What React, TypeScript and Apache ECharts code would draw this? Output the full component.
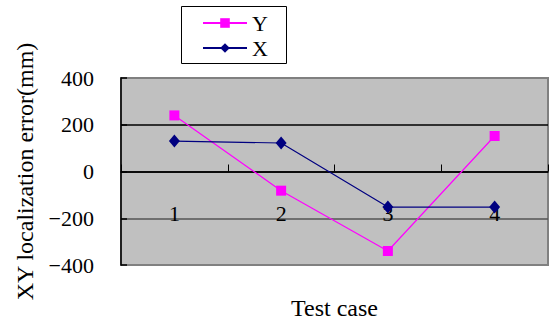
import React, { useEffect, useRef } from "react";
import * as echarts from "echarts";

const categories = ["1", "2", "3", "4"];
const seriesY = [240, -82, -340, 152];
const seriesX = [130, 122, -152, -152];
const yTicks = { min: -400, max: 400, interval: 200 };

const FONT = "'Liberation Serif', 'Times New Roman', serif";

export default function App() {
  const ref = useRef<HTMLDivElement>(null);

  useEffect(() => {
    if (!ref.current) return;
    const chart = echarts.init(ref.current, undefined, { renderer: "svg" });
    chart.setOption({
      animation: false,
      backgroundColor: "#ffffff",
      textStyle: { fontFamily: FONT },
      // legend frame
      graphic: [
        {
          type: "rect",
          left: 181,
          top: 6,
          shape: { x: 0, y: 0, width: 105, height: 57 },
          style: { fill: "#ffffff", stroke: "#000000", lineWidth: 1 },
          z: -1,
        },
      ],
      grid: {
        left: 121,
        right: 2,
        top: 78,
        bottom: 56,
        outerBoundsMode: "none",
        containLabel: false,
        show: true,
        backgroundColor: "#c0c0c0",
        borderColor: "#808080",
        borderWidth: 2,
      },
      legend: {
        left: 202,
        top: 12,
        orient: "vertical",
        itemGap: 3,
        itemWidth: 44,
        itemHeight: 12,
        padding: 0,
        textStyle: { fontFamily: FONT, fontSize: 22, color: "#000" },
        data: ["Y", "X"],
        z: 5,
      },
      xAxis: {
        type: "category",
        data: categories,
        boundaryGap: true,
        name: "Test case",
        nameLocation: "middle",
        nameGap: 31,
        nameTextStyle: { fontFamily: FONT, fontSize: 24, color: "#000" },
        axisLine: { onZero: true, lineStyle: { color: "#000", width: 1.5 } },
        axisTick: { show: true, inside: true, length: 7, lineStyle: { color: "#000" } },
        axisLabel: {
          margin: -63,
          fontFamily: FONT,
          fontSize: 22,
          color: "#000",
        },
      },
      yAxis: {
        type: "value",
        min: yTicks.min,
        max: yTicks.max,
        interval: yTicks.interval,
        name: "XY localization error(mm)",
        nameLocation: "middle",
        nameGap: 84,
        nameTextStyle: { fontFamily: FONT, fontSize: 24, color: "#000" },
        axisLine: { show: true, lineStyle: { color: "#000", width: 1.5 } },
        axisTick: { show: true, inside: true, length: 6, lineStyle: { color: "#000", width: 1.5 } },
        axisLabel: {
          margin: 27,
          fontFamily: FONT,
          fontSize: 22,
          color: "#000",
          formatter: (v: number) => (v < 0 ? "\u2212" + Math.abs(v) : String(v)),
        },
        splitLine: {
          show: true,
          lineStyle: {
            color: ["#808080", "#555555", "#000000", "#000000", "#808080"],
            width: 1.5,
          },
        },
      },
      series: [
        {
          name: "Y",
          type: "line",
          data: seriesY,
          symbol: "rect",
          symbolSize: 10,
          itemStyle: { color: "#ff00ff" },
          lineStyle: { color: "#ff00ff", width: 1.2 },
          z: 3,
        },
        {
          name: "X",
          type: "line",
          data: seriesX,
          symbol: "diamond",
          symbolSize: [11, 13],
          itemStyle: { color: "#000080" },
          lineStyle: { color: "#000080", width: 1.2 },
          z: 4,
        },
      ],
    });
    return () => chart.dispose();
  }, []);

  return <div ref={ref} style={{ width: 550, height: 321, position: "absolute", left: 0, top: 0 }} />;
}
